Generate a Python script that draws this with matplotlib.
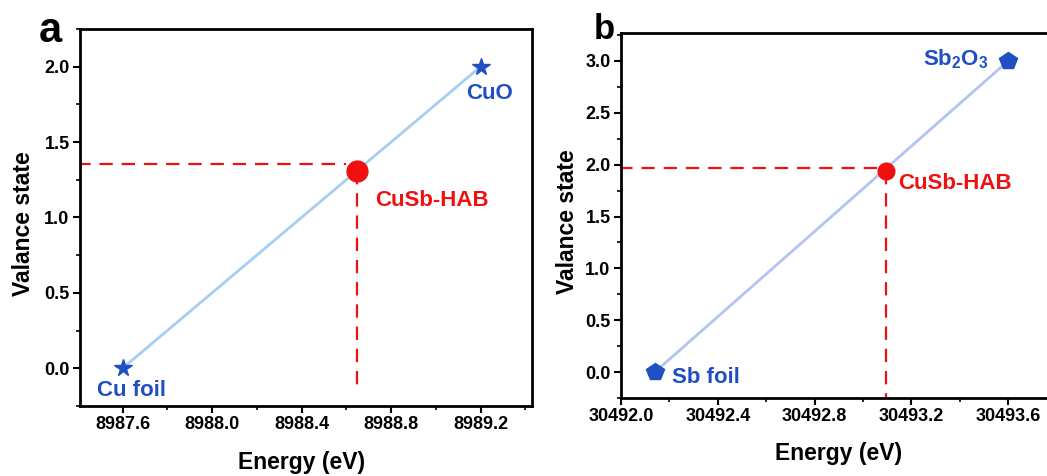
import matplotlib
matplotlib.use("Agg")
import matplotlib.pyplot as plt
from matplotlib.ticker import MultipleLocator, FormatStrFormatter

plt.rcParams['font.family'] = ['Liberation Sans', 'DejaVu Sans']
plt.rcParams['font.weight'] = 'bold'
plt.rcParams['mathtext.fontset'] = 'custom'
plt.rcParams['mathtext.rm'] = 'Liberation Sans:bold'
plt.rcParams['mathtext.default'] = 'rm'

# Panel a data
cu_energy = [8987.6, 8989.2]
cu_valence = [0.0, 2.0]
cu_labels = ["Cu foil", "CuO"]
cusb_cu_energy = 8988.65
cusb_cu_valence = 1.31
cusb_cu_guide = 1.355

# Panel b data
sb_energy = [30492.14, 30493.6]
sb_valence = [0.0, 3.0]
sb_labels = ["Sb foil", "Sb$_2$O$_3$"]
cusb_sb_energy = 30493.095
cusb_sb_valence = 1.935
cusb_sb_guide = 1.97

RED = '#f01010'
BLUE = '#1f4fc0'
DASH = (0, (6, 4))

fig = plt.figure(figsize=(10.47, 4.76), dpi=100)
W, H = 1047, 476
axa = fig.add_axes([80 / W, 1 - 406 / H, (532 - 80) / W, (406 - 29) / H])
axb = fig.add_axes([621 / W, 1 - 398 / H, (1100 - 621) / W, (398 - 33) / H])

def style(ax, xl, yl):
    for s in ax.spines.values():
        s.set_linewidth(2)
    ax.tick_params(which='major', direction='out', length=5, width=1.5, labelsize=13, pad=2.5)
    ax.tick_params(which='minor', direction='out', length=3, width=1.2)
    ax.set_xlabel("Energy (eV)", fontsize=16.5, fontweight='bold', va='center')
    ax.set_ylabel("Valance state", fontsize=16.5, fontweight='bold', va='center')
    ax.xaxis.set_label_coords(*xl)
    ax.yaxis.set_label_coords(*yl)

# Panel a
axa.plot(cu_energy, cu_valence, color='#a6cdf2', lw=2, zorder=2)
axa.plot(cu_energy, cu_valence, ls='none', marker='*', ms=13, color=BLUE, zorder=3)
axa.plot([8987.3, cusb_cu_energy - 0.05], [cusb_cu_guide, cusb_cu_guide], ls=DASH,
         color=RED, lw=1.6, zorder=2)
axa.plot([cusb_cu_energy, cusb_cu_energy], [cusb_cu_valence, -0.155], ls=DASH,
         color=RED, lw=1.6, zorder=2)
axa.plot([cusb_cu_energy], [cusb_cu_valence], marker='o', ms=15, color=RED, zorder=4)
axa.set_xlim(8987.41, 8989.43)
axa.set_ylim(-0.25, 2.25)
axa.xaxis.set_major_locator(MultipleLocator(0.4))
axa.xaxis.set_minor_locator(MultipleLocator(0.2))
axa.yaxis.set_major_locator(MultipleLocator(0.5))
axa.yaxis.set_minor_locator(MultipleLocator(0.25))
axa.xaxis.set_major_formatter(FormatStrFormatter('%.1f'))
axa.yaxis.set_major_formatter(FormatStrFormatter('%.1f'))
style(axa, (0.491, -0.149), (-0.124, 0.485))
axa.text(cu_energy[0] + 0.04, cu_valence[0] - 0.145, cu_labels[0], color=BLUE, fontsize=16,
         fontweight='bold', ha='center', va='center')
axa.text(cu_energy[1] + 0.04, cu_valence[1] - 0.18, cu_labels[1], color=BLUE, fontsize=16,
         fontweight='bold', ha='center', va='center')
axa.text(cusb_cu_energy + 0.08, cusb_cu_valence - 0.2, "CuSb-HAB", color=RED, fontsize=16,
         fontweight='bold', ha='left', va='center')
axa.text(-0.04, 0.995, "a", transform=axa.transAxes, fontsize=30, fontweight='bold',
         ha='right', va='center')

# Panel b
axb.plot(sb_energy, sb_valence, color='#b3c3f2', lw=2, zorder=2)
axb.plot(sb_energy, sb_valence, ls='none', marker='p', ms=13, color=BLUE, zorder=3)
axb.plot([30491.9, cusb_sb_energy - 0.03], [cusb_sb_guide, cusb_sb_guide], ls=DASH,
         color=RED, lw=1.6, zorder=2)
axb.plot([cusb_sb_energy, cusb_sb_energy], [cusb_sb_valence, -0.3], ls=DASH,
         color=RED, lw=1.6, zorder=2)
axb.plot([cusb_sb_energy], [cusb_sb_valence], marker='o', ms=12, color=RED, zorder=4)
axb.set_xlim(30492.0, 30493.98)
axb.set_ylim(-0.25, 3.27)
axb.xaxis.set_major_locator(MultipleLocator(0.4))
axb.xaxis.set_minor_locator(MultipleLocator(0.2))
axb.yaxis.set_major_locator(MultipleLocator(0.5))
axb.yaxis.set_minor_locator(MultipleLocator(0.25))
axb.xaxis.set_major_formatter(FormatStrFormatter('%.1f'))
axb.yaxis.set_major_formatter(FormatStrFormatter('%.1f'))
style(axb, (0.455, -0.151), (-0.111, 0.482))
axb.text(sb_energy[0] + 0.07, sb_valence[0] - 0.05, sb_labels[0], color=BLUE, fontsize=16,
         fontweight='bold', ha='left', va='center')
axb.text(sb_energy[1] - 0.08, sb_valence[1] + 0.02, sb_labels[1], color=BLUE, fontsize=16,
         fontweight='bold', ha='right', va='center')
axb.text(cusb_sb_energy + 0.05, cusb_sb_valence - 0.12, "CuSb-HAB", color=RED, fontsize=16,
         fontweight='bold', ha='left', va='center')
axb.text(-0.012, 1.01, "b", transform=axb.transAxes, fontsize=25, fontweight='bold',
         ha='right', va='center')

fig.savefig("out.png", dpi=100)
